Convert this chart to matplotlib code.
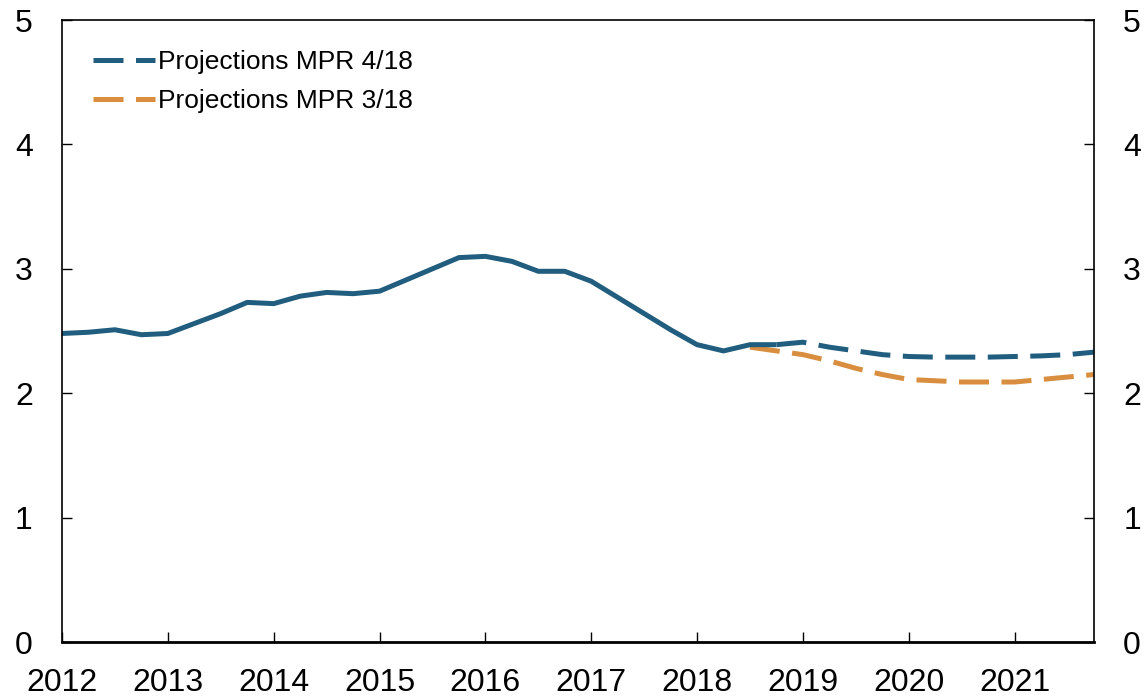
import numpy as np
import matplotlib
matplotlib.use('Agg')
import matplotlib.pyplot as plt

plt.rcParams['font.family'] = ['Liberation Sans', 'DejaVu Sans']

# quarterly data, first quarter of each series given by its start year
hist_start = 2012.0
hist = [2.48, 2.49, 2.51, 2.47, 2.48, 2.56, 2.64, 2.73, 2.72, 2.78, 2.81, 2.80,
        2.82, 2.91, 3.00, 3.09, 3.10, 3.06, 2.98, 2.98, 2.90, 2.77, 2.64, 2.51,
        2.39, 2.34, 2.39, 2.39]
mpr418_start = 2018.75
mpr418 = [2.39, 2.41, 2.37, 2.34, 2.31, 2.295, 2.29, 2.29, 2.29, 2.295, 2.30, 2.31, 2.33]
mpr318_start = 2018.5
mpr318 = [2.37, 2.34, 2.31, 2.26, 2.20, 2.15, 2.11, 2.10, 2.09, 2.09, 2.09, 2.11, 2.13, 2.15]

years = list(range(2012, 2022))
yticks = [0, 1, 2, 3, 4, 5]

blue = '#215D7E'
orange = '#D88E3E'


def quarters(start, values):
    return start + 0.25 * np.arange(len(values))


fig = plt.figure(figsize=(11.48, 7.0), dpi=100)
ax = fig.add_axes([62 / 1148, 58 / 700, 1032 / 1148, 622 / 700])

ax.plot(quarters(mpr318_start, mpr318), mpr318, color=orange, lw=3.6,
        dashes=(6, 2.5), label='Projections MPR 3/18')
ax.plot(quarters(hist_start, hist), hist, color=blue, lw=3.6, solid_capstyle='butt')
ax.plot(quarters(mpr418_start, mpr418), mpr418, color=blue, lw=3.6,
        dashes=(6, 2.5), label='Projections MPR 4/18')

ax.set_xlim(2012, 2021.75)
ax.set_ylim(0, 5)
ax.set_xticks(years)
ax.set_xticklabels([str(y) for y in years])
ax.set_yticks(yticks)
ax.tick_params(axis='x', direction='in', length=7.5, width=1, labelsize=23, pad=19)
ax.tick_params(axis='y', direction='in', length=7.5, width=1, labelsize=23, pad=21,
               left=True, right=True, labelleft=True, labelright=True)
for s in ax.spines.values():
    s.set_linewidth(1.2)
ax.spines['bottom'].set_linewidth(2)

h, l = ax.get_legend_handles_labels()
ax.legend(h[::-1], l[::-1], loc='upper left', frameon=False, fontsize=19,
          handlelength=2.35, handletextpad=0.12, labelspacing=0.55,
          borderaxespad=0, bbox_to_anchor=(0.02, 0.968))

fig.savefig('out.png', dpi=100)
